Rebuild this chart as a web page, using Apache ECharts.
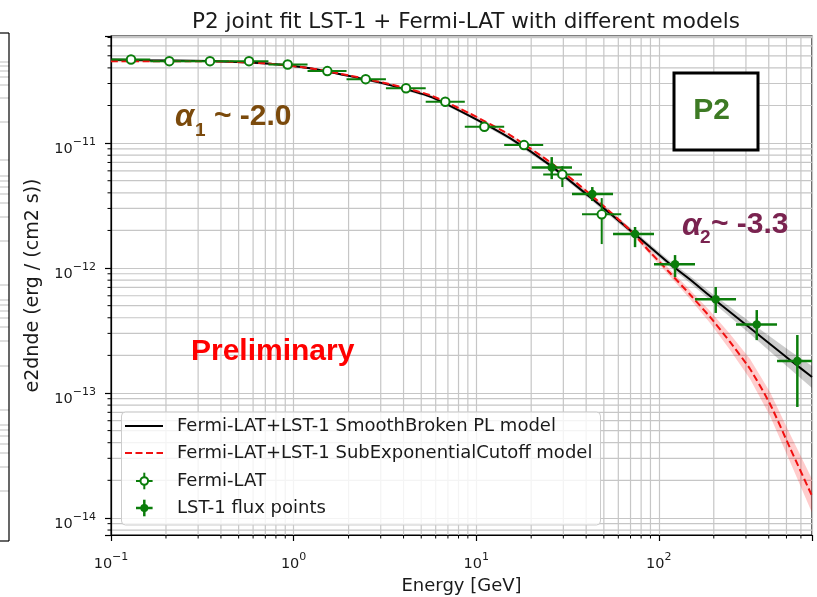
<!DOCTYPE html>
<html><head><meta charset="utf-8">
<script src="https://cdn.jsdelivr.net/npm/echarts@6/dist/echarts.min.js"></script>
<style>html,body{margin:0;padding:0;background:#fff}#c{width:817px;height:597px}</style>
</head><body><div id="c"></div>
<script>
// ---------- texts ----------
const TITLE = 'P2 joint fit LST-1 + Fermi-LAT with different models';
const X_NAME = 'Energy [GeV]';
const Y_NAME = 'e2dnde (erg / (cm2 s))';
const LEGEND_LABELS = ['Fermi-LAT+LST-1 SmoothBroken PL model', 'Fermi-LAT+LST-1 SubExponentialCutoff model', 'Fermi-LAT', 'LST-1 flux points'];

// ---------- axes ----------
const X_RANGE = [0.1, 690];
const Y_RANGE = [7.3e-15, 7.2e-11];
const X_MINOR = [0.2,0.3,0.4,0.5,0.6,0.7,0.8,0.9, 2,3,4,5,6,7,8,9, 20,30,40,50,60,70,80,90, 200,300,400,500,600];
const Y_MINOR = [8e-15,9e-15, 2e-14,3e-14,4e-14,5e-14,6e-14,7e-14,8e-14,9e-14, 2e-13,3e-13,4e-13,5e-13,6e-13,7e-13,8e-13,9e-13, 2e-12,3e-12,4e-12,5e-12,6e-12,7e-12,8e-12,9e-12, 2e-11,3e-11,4e-11,5e-11,6e-11,7e-11];

// ---------- model curves ----------
const MODEL_E = [0.1, 0.1636, 0.2708, 0.4484, 0.7426, 1.229, 2.036, 3.372, 5.585, 9.25, 15.31, 25.36, 42.0, 69.55, 89.5, 115.2, 148.2, 190.7, 245.4, 315.9, 406.4, 523.0, 690.2];
const SBPL = [4.656e-11, 4.613e-11, 4.571e-11, 4.487e-11, 4.325e-11, 3.981e-11, 3.436e-11, 2.911e-11, 2.355e-11, 1.644e-11, 1.096e-11, 6.67e-12, 3.70e-12, 2.01e-12, 1.472e-12, 1.076e-12, 8.09e-13, 5.97e-13, 4.45e-13, 3.31e-13, 2.47e-13, 1.837e-13, 1.343e-13];
const SBPL_HI = [4.79e-11, 4.72e-11, 4.656e-11, 4.571e-11, 4.406e-11, 4.055e-11, 3.499e-11, 2.965e-11, 2.408e-11, 1.690e-11, 1.133e-11, 6.92e-12, 3.86e-12, 2.11e-12, 1.550e-12, 1.138e-12, 8.63e-13, 6.43e-13, 4.88e-13, 3.70e-13, 2.83e-13, 2.17e-13, 1.644e-13];
const SBPL_LO = [4.529e-11, 4.512e-11, 4.487e-11, 4.406e-11, 4.246e-11, 3.908e-11, 3.373e-11, 2.858e-11, 2.304e-11, 1.600e-11, 1.061e-11, 6.43e-12, 3.54e-12, 1.919e-12, 1.398e-12, 1.019e-12, 7.59e-13, 5.55e-13, 4.06e-13, 2.97e-13, 2.15e-13, 1.556e-13, 1.096e-13];
const SEC = [4.529e-11, 4.529e-11, 4.529e-11, 4.487e-11, 4.325e-11, 3.981e-11, 3.467e-11, 2.965e-11, 2.421e-11, 1.722e-11, 1.159e-11, 7.05e-12, 3.91e-12, 2.01e-12, 1.343e-12, 9.12e-13, 6.14e-13, 4.06e-13, 2.56e-13, 1.556e-13, 8.17e-14, 3.63e-14, 1.50e-14];
const SEC_HI = [4.613e-11, 4.613e-11, 4.613e-11, 4.571e-11, 4.406e-11, 4.055e-11, 3.532e-11, 3.020e-11, 2.466e-11, 1.754e-11, 1.180e-11, 7.18e-12, 4.00e-12, 2.09e-12, 1.413e-12, 9.73e-13, 6.67e-13, 4.53e-13, 2.97e-13, 1.871e-13, 1.019e-13, 4.70e-14, 2.05e-14];
const SEC_LO = [4.446e-11, 4.446e-11, 4.446e-11, 4.406e-11, 4.246e-11, 3.908e-11, 3.404e-11, 2.911e-11, 2.377e-11, 1.690e-11, 1.138e-11, 6.92e-12, 3.82e-12, 1.94e-12, 1.275e-12, 8.55e-13, 5.65e-13, 3.63e-13, 2.21e-13, 1.294e-13, 6.55e-14, 2.81e-14, 1.10e-14];

// ---------- Fermi-LAT flux points ----------
const FERMI_E = [0.1287, 0.2086, 0.3484, 0.570, 0.928, 1.530, 2.482, 4.127, 6.77, 11.08, 18.27, 29.62, 48.68];
const FERMI_E_LO = [0.1005, 0.164, 0.27, 0.446, 0.728, 1.192, 1.949, 3.203, 5.29, 8.66, 14.23, 23.27, 37.96];
const FERMI_E_HI = [0.164, 0.27, 0.446, 0.728, 1.192, 1.949, 3.203, 5.29, 8.66, 14.23, 23.27, 37.96, 62.3];
const FERMI_F = [4.67e-11, 4.53e-11, 4.53e-11, 4.53e-11, 4.26e-11, 3.77e-11, 3.25e-11, 2.75e-11, 2.14e-11, 1.35e-11, 9.64e-12, 5.62e-12, 2.69e-12];
const FERMI_F_LO = [4.45e-11, 4.33e-11, 4.33e-11, 4.33e-11, 4.07e-11, 3.60e-11, 3.10e-11, 2.61e-11, 2.02e-11, 1.26e-11, 8.9e-12, 4.45e-12, 1.556e-12];
const FERMI_F_HI = [4.90e-11, 4.74e-11, 4.74e-11, 4.74e-11, 4.46e-11, 3.95e-11, 3.41e-11, 2.90e-11, 2.27e-11, 1.45e-11, 1.045e-11, 6.55e-12, 3.63e-12];

// ---------- LST-1 flux points ----------
const LST_E = [25.91, 43.23, 74.1, 122.7, 204.9, 343.8, 573.5];
const LST_E_LO = [20.14, 33.46, 56.14, 94.1, 157.8, 264.7, 444.0];
const LST_E_HI = [33.46, 56.14, 94.1, 157.8, 264.7, 444.0, 744.7];
const LST_F = [6.39e-12, 3.91e-12, 1.871e-12, 1.071e-12, 5.62e-13, 3.54e-13, 1.80e-13];
const LST_F_LO = [5.15e-12, 3.44e-12, 1.47e-12, 8.47e-13, 4.37e-13, 2.65e-13, 7.73e-14];
const LST_F_HI = [7.73e-12, 4.45e-12, 2.13e-12, 1.27e-12, 7.05e-13, 4.61e-13, 2.91e-13];

// ---------- styles ----------
const GREEN = '#0b7d0b';
const GRIDC = '#c6c6c6';
const TXT = '#1a1a1a';
const FONT = 'DejaVu Sans';

function powLabel(v){
  const l = Math.log10(v), e = Math.round(l);
  if (Math.abs(l - e) > 1e-6) return '';
  return '{b|10}{s|' + String(e).replace('-', '\u2212') + '}';
}
const TICK_RICH = {
  b: {fontFamily: FONT, fontSize: 14.5, lineHeight: 20, verticalAlign: 'bottom', color: TXT},
  s: {fontFamily: FONT, fontSize: 11, lineHeight: 11, verticalAlign: 'top', color: TXT}
};

const chart = echarts.init(document.getElementById('c'), null, {renderer: 'canvas'});

function zip(a, b){ return a.map((v, i) => [v, b[i]]); }

function bandItem(E, HI, LO, fill){
  return function(params, api){
    if (params.dataIndex !== 0) return;
    const pts = [];
    for (let i = 0; i < E.length; i++) pts.push(api.coord([E[i], HI[i]]));
    for (let i = E.length - 1; i >= 0; i--) pts.push(api.coord([E[i], LO[i]]));
    return {type: 'polygon', shape: {points: pts}, style: {fill: fill}};
  };
}

function errItem(width){
  return function(params, api){
    const e = api.value(0), f = api.value(1);
    const c = api.coord([e, f]);
    const l = api.coord([api.value(2), f]);
    const r = api.coord([api.value(3), f]);
    const b = api.coord([e, api.value(4)]);
    const t = api.coord([e, api.value(5)]);
    const st = {stroke: GREEN, lineWidth: width};
    return {type: 'group', children: [
      {type: 'line', shape: {x1: l[0], y1: c[1], x2: r[0], y2: c[1]}, style: st},
      {type: 'line', shape: {x1: c[0], y1: t[1], x2: c[0], y2: b[1]}, style: st}
    ]};
  };
}

const fermiRows = FERMI_E.map((e, i) => [e, FERMI_F[i], FERMI_E_LO[i], FERMI_E_HI[i], FERMI_F_LO[i], FERMI_F_HI[i]]);
const lstRows = LST_E.map((e, i) => [e, LST_F[i], LST_E_LO[i], LST_E_HI[i], LST_F_LO[i], LST_F_HI[i]]);

function minorXItem(params, api){
  const cs = params.coordSys;
  const x = api.coord([api.value(0), Y_RANGE[0]])[0];
  const yb = cs.y + cs.height;
  return {type: 'group', children: [
    {type: 'line', shape: {x1: x, y1: cs.y, x2: x, y2: yb}, style: {stroke: GRIDC, lineWidth: 1.2}},
    {type: 'line', shape: {x1: x, y1: yb, x2: x, y2: yb + 3.5}, style: {stroke: '#000', lineWidth: 1}}
  ]};
}
function minorYItem(params, api){
  const cs = params.coordSys;
  const y = api.coord([X_RANGE[0], api.value(1)])[1];
  return {type: 'group', children: [
    {type: 'line', shape: {x1: cs.x, y1: y, x2: cs.x + cs.width, y2: y}, style: {stroke: GRIDC, lineWidth: 1.2}},
    {type: 'line', shape: {x1: cs.x - 3.5, y1: y, x2: cs.x, y2: y}, style: {stroke: '#000', lineWidth: 1}}
  ]};
}

// legend + annotations (graphic)
const LX = 121.5, LY = 412;
const leftFragYs = [62,66,71,77,85,98,122,160,176,181,187,194,203,217,241,285,300,305,311,318,327,341,366,410,425,430,436,444,453,467,491];
const graphic = [
  {type: 'line', shape: {x1: 9, y1: 33, x2: 9, y2: 541}, style: {stroke: '#000', lineWidth: 1.2}, z: 20},
  {type: 'line', shape: {x1: 0, y1: 33, x2: 9, y2: 33}, style: {stroke: '#000', lineWidth: 1.2}, z: 20},
  {type: 'line', shape: {x1: 0, y1: 541, x2: 9, y2: 541}, style: {stroke: '#000', lineWidth: 1.2}, z: 20},
  ...leftFragYs.map(y => ({type: 'line', shape: {x1: 0, y1: y, x2: 9, y2: y}, style: {stroke: '#bdbdbd', lineWidth: 1}, z: 19})),
  // legend box
  {type: 'rect', shape: {x: LX, y: LY, width: 479, height: 113, r: 4}, style: {fill: 'rgba(255,255,255,0.8)', stroke: '#cccccc', lineWidth: 1}, z: 30},
  {type: 'line', shape: {x1: 125, y1: 426, x2: 163, y2: 426}, style: {stroke: '#000', lineWidth: 2}, z: 31},
  {type: 'line', shape: {x1: 125, y1: 453, x2: 163, y2: 453}, style: {stroke: '#f01010', lineWidth: 2, lineDash: [7, 3.5]}, z: 31},
  {type: 'line', shape: {x1: 136, y1: 481, x2: 152.6, y2: 481}, style: {stroke: GREEN, lineWidth: 2}, z: 31},
  {type: 'line', shape: {x1: 144.3, y1: 472.7, x2: 144.3, y2: 489.3}, style: {stroke: GREEN, lineWidth: 2}, z: 31},
  {type: 'circle', shape: {cx: 144.3, cy: 481, r: 3.8}, style: {fill: '#fff', stroke: GREEN, lineWidth: 2}, z: 32},
  {type: 'line', shape: {x1: 136, y1: 508, x2: 152.6, y2: 508}, style: {stroke: GREEN, lineWidth: 2.5}, z: 31},
  {type: 'line', shape: {x1: 144.3, y1: 499.7, x2: 144.3, y2: 516.3}, style: {stroke: GREEN, lineWidth: 2.5}, z: 31},
  {type: 'circle', shape: {cx: 144.3, cy: 508, r: 4}, style: {fill: GREEN}, z: 32},
  ...LEGEND_LABELS.map((t, i) => ({type: 'text', z: 33, style: {text: t, x: 177, y: [426, 453, 481, 508][i], font: '18px "DejaVu Sans"', fill: TXT, textVerticalAlign: 'middle', verticalAlign: 'middle'}})),
  // P2 box
  {type: 'rect', shape: {x: 674, y: 73, width: 84, height: 77}, style: {fill: '#fff', stroke: '#000', lineWidth: 3}, z: 30},
  {type: 'text', z: 31, style: {text: 'P2', x: 711.5, y: 111, font: 'bold 30px "Liberation Sans"', fill: '#3d7a24', textAlign: 'center', align: 'center', textVerticalAlign: 'middle', verticalAlign: 'middle'}},
  // alpha annotations
  {type: 'text', z: 31, style: {text: 'α', x: 175, y: 117, font: 'italic bold 31px "Liberation Sans"', fill: '#7b4a0c', textVerticalAlign: 'middle', verticalAlign: 'middle'}},
  {type: 'text', z: 31, style: {text: '1', x: 195, y: 131, font: 'bold 19px "Liberation Sans"', fill: '#7b4a0c', textVerticalAlign: 'middle', verticalAlign: 'middle'}},
  {type: 'text', z: 31, style: {text: '~ -2.0', x: 214, y: 116.5, font: 'bold 30px "Liberation Sans"', fill: '#7b4a0c', textVerticalAlign: 'middle', verticalAlign: 'middle'}},
  {type: 'text', z: 31, style: {text: 'α', x: 682, y: 226, font: 'italic bold 31px "Liberation Sans"', fill: '#7a2350', textVerticalAlign: 'middle', verticalAlign: 'middle'}},
  {type: 'text', z: 31, style: {text: '2', x: 700, y: 238, font: 'bold 19px "Liberation Sans"', fill: '#7a2350', textVerticalAlign: 'middle', verticalAlign: 'middle'}},
  {type: 'text', z: 31, style: {text: '~ -3.3', x: 711, y: 225, font: 'bold 30px "Liberation Sans"', fill: '#7a2350', textVerticalAlign: 'middle', verticalAlign: 'middle'}},
  // Preliminary
  {type: 'text', z: 31, style: {text: 'Preliminary', x: 191, y: 352, font: 'bold 30px "Liberation Sans"', fill: '#ff0000', textVerticalAlign: 'middle', verticalAlign: 'middle'}}
];

const axisCommon = {
  type: 'log', logBase: 10,
  axisLine: {show: true, lineStyle: {color: '#000', width: 1.2}},
  axisTick: {show: true, inside: false, length: 6, lineStyle: {color: '#000', width: 1.2}},
  splitLine: {show: true, lineStyle: {color: GRIDC, width: 1.2}},
  minorTick: {show: false}, minorSplitLine: {show: false}
};

chart.setOption({
  animation: false,
  backgroundColor: '#fff',
  title: {text: TITLE, left: 461, top: 6, textAlign: 'center', textStyle: {fontFamily: FONT, fontSize: 21.5, fontWeight: 'normal', color: TXT}},
  grid: {left: 111, right: 5, top: 36, bottom: 62, show: true, borderColor: '#000', borderWidth: 1.2, containLabel: false, outerBoundsMode: 'none'},
  xAxis: Object.assign({}, axisCommon, {
    min: X_RANGE[0], max: X_RANGE[1],
    name: X_NAME, nameLocation: 'middle', nameGap: 42,
    nameTextStyle: {fontFamily: FONT, fontSize: 18, color: TXT},
    axisLabel: {formatter: powLabel, rich: TICK_RICH, margin: 16.5, showMinLabel: true, showMaxLabel: true, hideOverlap: false}
  }),
  yAxis: Object.assign({}, axisCommon, {
    min: Y_RANGE[0], max: Y_RANGE[1],
    name: Y_NAME, nameLocation: 'middle', nameGap: 68,
    nameTextStyle: {fontFamily: FONT, fontSize: 19, color: TXT},
    axisLabel: {formatter: powLabel, rich: TICK_RICH, margin: 15, padding: [7, 0, 0, 0], hideOverlap: false}
  }),
  graphic: graphic,
  series: [
    {type: 'custom', name: 'minorX', renderItem: minorXItem, data: X_MINOR.map(v => [v, Y_RANGE[0]]), clip: false, silent: true, z: 0},
    {type: 'custom', name: 'minorY', renderItem: minorYItem, data: Y_MINOR.map(v => [X_RANGE[0], v]), clip: false, silent: true, z: 0},
    {type: 'custom', name: 'sbplBand', renderItem: bandItem(MODEL_E, SBPL_HI, SBPL_LO, 'rgba(0,0,0,0.2)'), data: [[MODEL_E[0], SBPL[0]]], clip: true, silent: true, z: 1},
    {type: 'custom', name: 'secBand', renderItem: bandItem(MODEL_E, SEC_HI, SEC_LO, 'rgba(255,0,0,0.2)'), data: [[MODEL_E[0], SEC[0]]], clip: true, silent: true, z: 1},
    {type: 'line', name: LEGEND_LABELS[0], data: zip(MODEL_E, SBPL), showSymbol: false, symbol: 'none', smooth: 0.2, lineStyle: {color: '#000', width: 2}, z: 2, clip: true},
    {type: 'line', name: LEGEND_LABELS[1], data: zip(MODEL_E, SEC), showSymbol: false, symbol: 'none', smooth: 0.2, lineStyle: {color: '#f01010', width: 2, type: [7, 3.5]}, z: 3, clip: true},
    {type: 'custom', name: 'fermiErr', renderItem: errItem(2), data: fermiRows, clip: true, z: 4},
    {type: 'custom', name: 'lstErr', renderItem: errItem(2.5), data: lstRows, clip: true, z: 4},
    {type: 'scatter', name: LEGEND_LABELS[2], data: zip(FERMI_E, FERMI_F), symbol: 'circle', symbolSize: 8.5, itemStyle: {color: '#fff', borderColor: GREEN, borderWidth: 2, opacity: 1}, z: 5},
    {type: 'scatter', name: LEGEND_LABELS[3], data: zip(LST_E, LST_F), symbol: 'circle', symbolSize: 8.5, itemStyle: {color: GREEN, opacity: 1}, z: 5}
  ]
});
</script></body></html>
